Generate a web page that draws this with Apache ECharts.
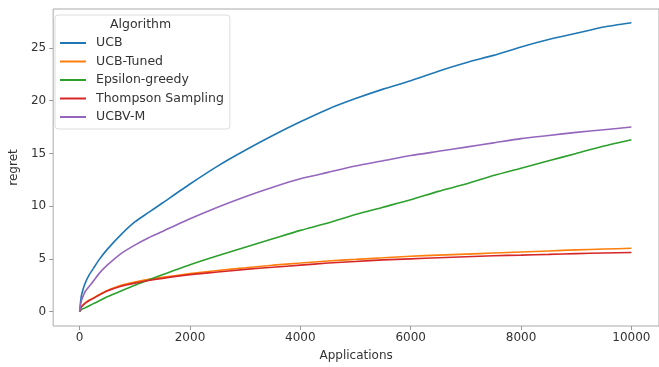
<!DOCTYPE html>
<html>
<head>
<meta charset="utf-8">
<script src="https://cdn.jsdelivr.net/npm/echarts@6/dist/echarts.min.js"></script>
<style>
html,body{margin:0;padding:0;background:#fff;}
#chart{width:659px;height:367px;}
</style>
</head>
<body>
<div id="chart"></div>
<script>
// values
var applications = [0, 25, 50, 100, 175, 250, 350, 500, 750, 1000, 1250, 1500, 2000, 2500, 3000, 3500, 4000, 4500, 5000, 5500, 6000, 6500, 7000, 7500, 8000, 8500, 9000, 9500, 10000];
var ucb      = [0, 1.3, 1.9, 2.7, 3.5, 4.1, 4.9, 5.9, 7.3, 8.5, 9.4, 10.3, 12.1, 13.8, 15.3, 16.7, 18.0, 19.2, 20.2, 21.1, 21.9, 22.8, 23.6, 24.3, 25.1, 25.8, 26.4, 27.0, 27.4];
var ucbTuned = [0, 0.4, 0.55, 0.8, 1.1, 1.3, 1.6, 2.0, 2.5, 2.8, 3.05, 3.25, 3.6, 3.9, 4.15, 4.4, 4.6, 4.8, 4.95, 5.1, 5.25, 5.35, 5.45, 5.55, 5.65, 5.75, 5.85, 5.93, 6.0];
var epsilon  = [0, 0.15, 0.25, 0.35, 0.55, 0.75, 1.0, 1.4, 1.95, 2.5, 3.0, 3.5, 4.45, 5.3, 6.1, 6.9, 7.7, 8.4, 9.2, 9.9, 10.6, 11.4, 12.1, 12.9, 13.6, 14.3, 15.0, 15.7, 16.3];
var thompson = [0, 0.4, 0.55, 0.8, 1.05, 1.25, 1.55, 1.95, 2.4, 2.7, 2.95, 3.15, 3.5, 3.75, 4.0, 4.2, 4.4, 4.6, 4.75, 4.9, 5.0, 5.1, 5.2, 5.3, 5.35, 5.42, 5.5, 5.55, 5.6];
var ucbvm    = [0, 0.9, 1.3, 1.9, 2.4, 2.9, 3.6, 4.4, 5.5, 6.3, 7.0, 7.6, 8.8, 9.9, 10.9, 11.8, 12.6, 13.2, 13.8, 14.3, 14.8, 15.2, 15.6, 16.0, 16.4, 16.7, 17.0, 17.25, 17.5];
var names  = ['UCB', 'UCB-Tuned', 'Epsilon-greedy', 'Thompson Sampling', 'UCBV-M'];
var colors = ['#1f77b4', '#ff7f0e', '#2ca02c', '#d62728', '#9467bd'];
var xTicks = [0, 2000, 4000, 6000, 8000, 10000];
var yTicks = [0, 5, 10, 15, 20, 25];

var chart = echarts.init(document.getElementById('chart'));
var font = 'DejaVu Sans';

function pairs(ys){
	var out = [];
	for(var i=0;i<applications.length;i++){
		out.push([applications[i], ys[i]]);
	}
	return out;
}

var allData = [ucb, ucbTuned, epsilon, thompson, ucbvm];
var series = [];
for(var s=0;s<names.length;s++){
	series.push({
		name:names[s],
		type:'line',
		data:pairs(allData[s]),
		symbol:'none',
		showSymbol:false,
		smooth:0.2,
		lineStyle:{width:1.6,color:colors[s]},
		itemStyle:{color:colors[s]}
	});
}

option = {
	animation:false,
	backgroundColor:'#fff',
	grid:{
		left:50, top:9, right:-10, bottom:37,
		show:true, borderColor:'#aaa', borderWidth:1
	},
	xAxis:{
		type:'value', min:-480, max:10500,
		name:'Applications', nameLocation:'middle', nameGap:24,
		nameTextStyle:{fontFamily:font, fontSize:12, color:'#333'},
		splitLine:{show:false},
		axisLine:{show:false, onZero:false},
		axisTick:{show:true, length:4, lineStyle:{color:'#999'}, customValues:xTicks},
		axisLabel:{fontFamily:font, fontSize:12, color:'#333', margin:6, customValues:xTicks,
			formatter:function(v){ return String(v); }}
	},
	yAxis:{
		type:'value', min:-1.37, max:28.7,
		name:'regret', nameLocation:'middle', nameGap:32, nameRotate:90,
		nameTextStyle:{fontFamily:font, fontSize:12, color:'#333'},
		splitLine:{show:false},
		axisLine:{show:false, onZero:false},
		axisTick:{show:true, length:4, lineStyle:{color:'#999'}, customValues:yTicks},
		axisLabel:{fontFamily:font, fontSize:12, color:'#333', margin:7, customValues:yTicks}
	},
	legend:{
		orient:'vertical', left:55, top:15,
		padding:[21, 6, 5, 5],
		backgroundColor:'rgba(255,255,255,0.85)',
		borderColor:'#ddd', borderWidth:1, borderRadius:3,
		icon:'rect',
		itemWidth:26, itemHeight:2, itemGap:4.5,
		textStyle:{fontFamily:font, fontSize:12.5, color:'#333', lineHeight:14, padding:[0,0,0,5]},
		data:names
	},
	graphic:[{
		type:'text', left:110, top:18, z:100,
		style:{text:'Algorithm', font:'12.5px "DejaVu Sans"', fill:'#333'}
	}],
	series:series
};

chart.setOption(option);
</script>
</body>
</html>
